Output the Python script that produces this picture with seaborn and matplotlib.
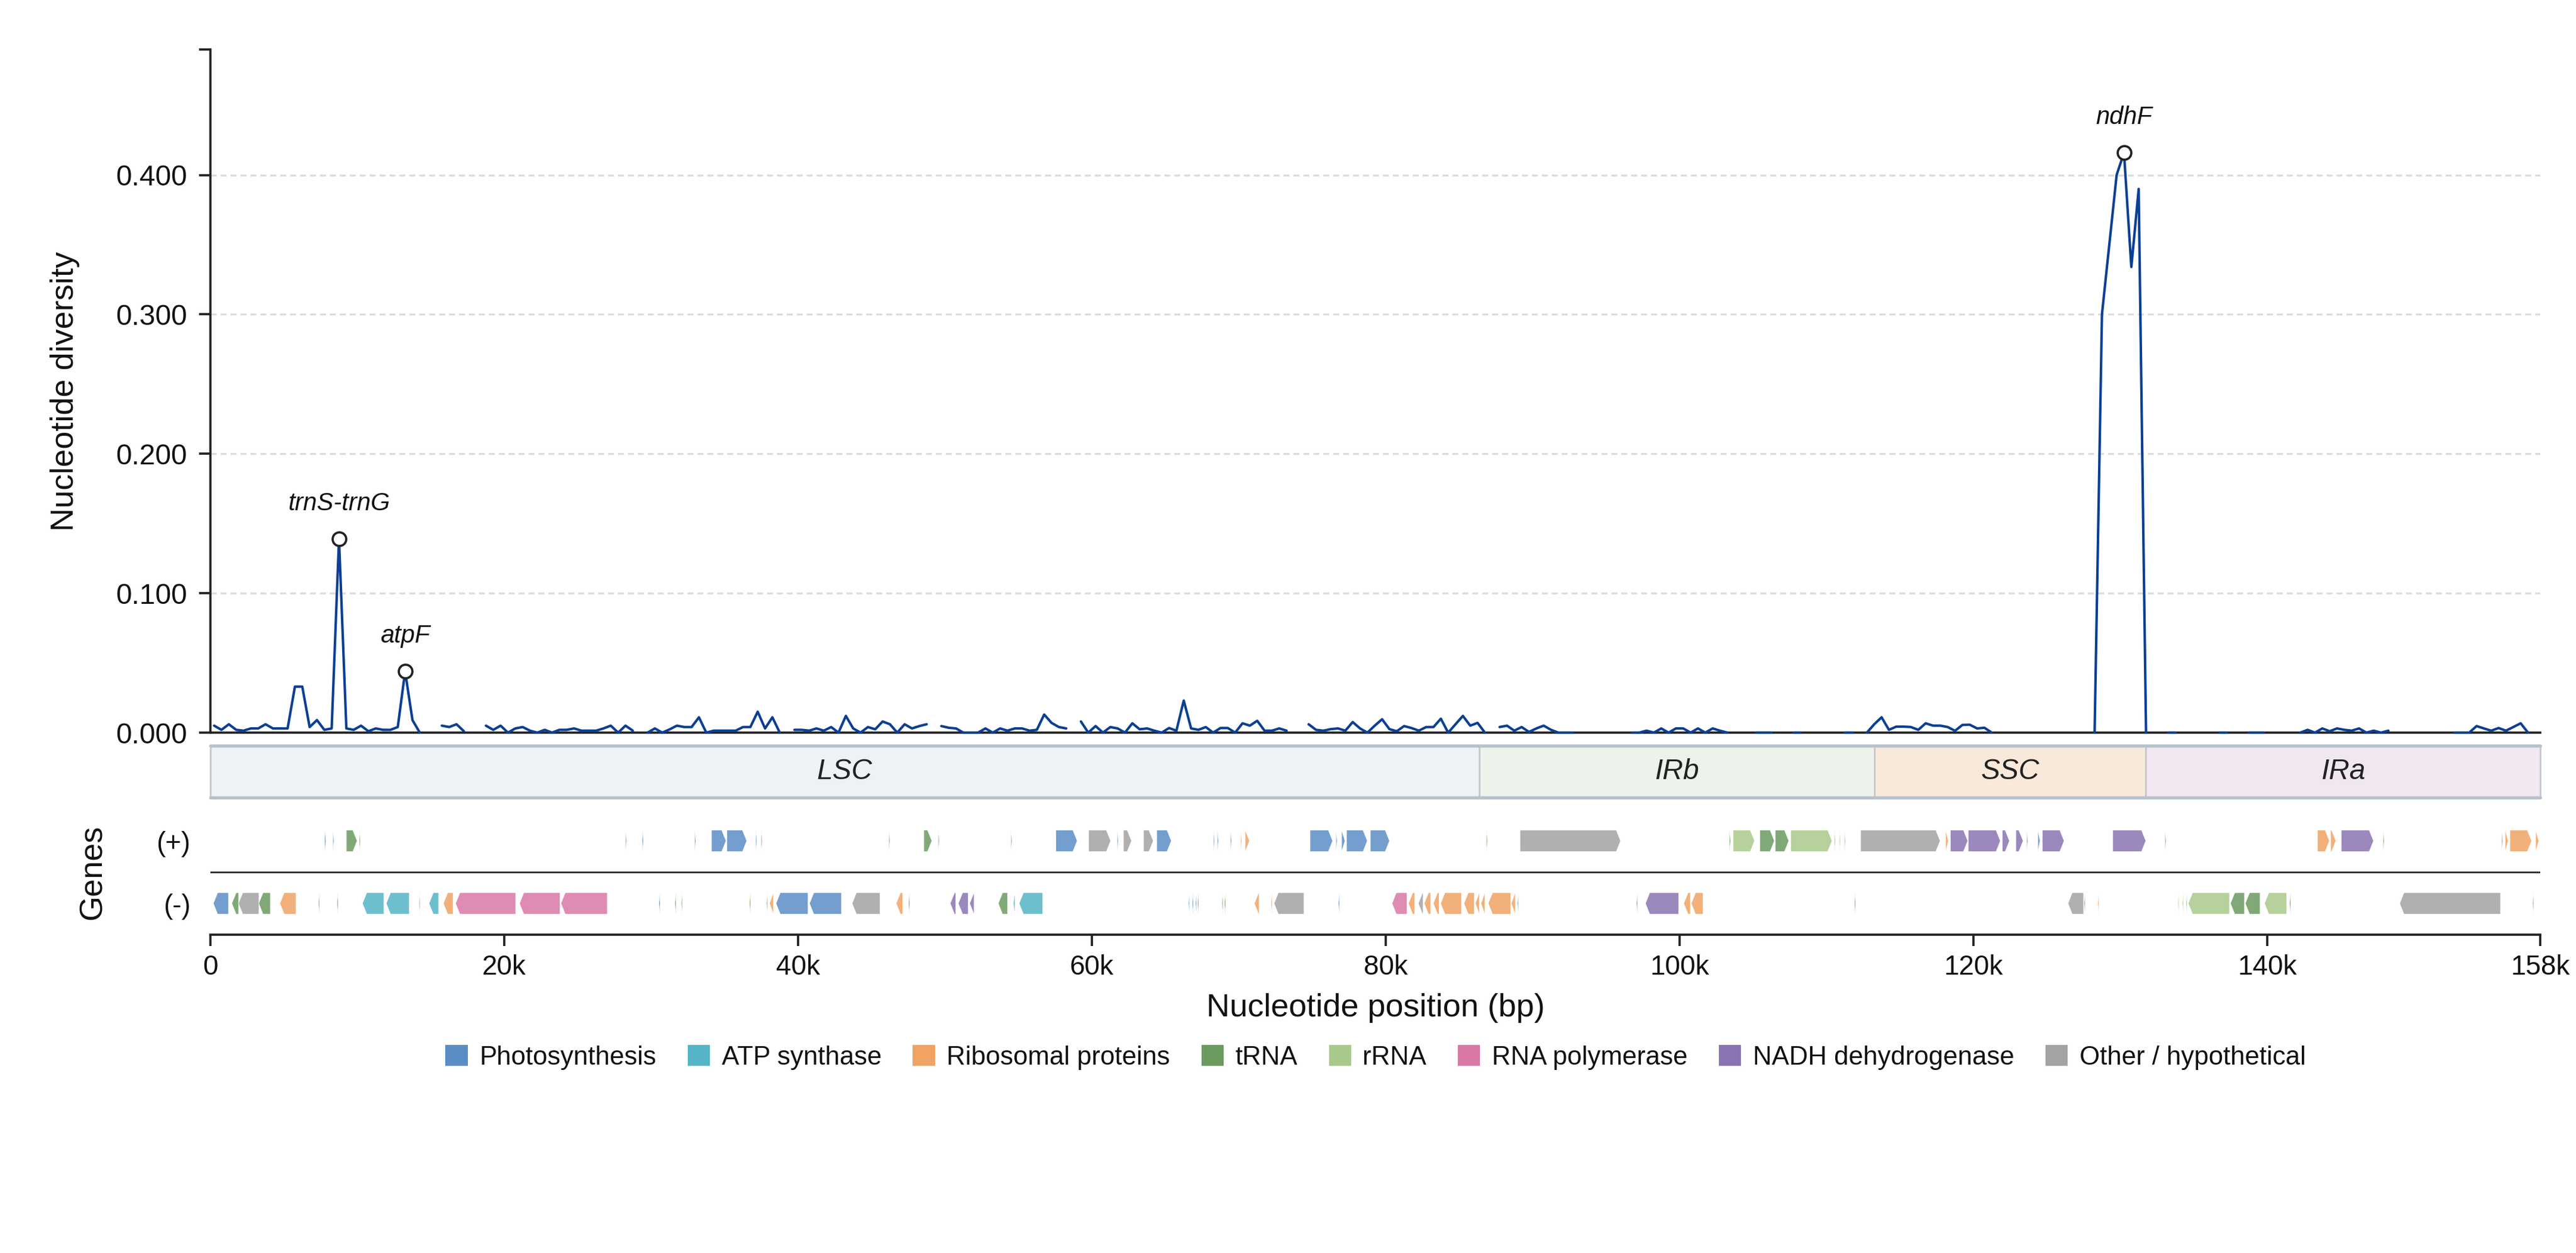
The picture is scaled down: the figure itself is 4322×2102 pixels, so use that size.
import numpy as np
import pandas as pd
import matplotlib
matplotlib.use("Agg")
import matplotlib.pyplot as plt
from matplotlib.patches import Polygon, Rectangle, Patch
import seaborn as sns

nan = np.nan

# ---- data -------------------------------------------------------------
GENOME_LEN = 158580
WIN_STEP = 500  # sliding window step (bp), one value per window

# nucleotide diversity (Pi) per window, 20 windows (10 kb) per row
pi_values = [
    0.005, 0.002, 0.006, 0.002, 0.0014, 0.003, 0.003, 0.006, 0.003, 0.003, 0.003, 0.033, 0.033, 0.004, 0.009, 0.002, 0.003, 0.139, 0.003, 0.002,
    0.005, 0.001, 0.003, 0.002, 0.002, 0.004, 0.044, 0.009, 0.0, nan, nan, 0.005, 0.004, 0.006, 0.001, nan, nan, 0.005, 0.002, 0.005,
    0.0, 0.003, 0.004, 0.0014, 0.0, 0.002, 0.0, 0.002, 0.002, 0.003, 0.0014, 0.0014, 0.0014, 0.003, 0.005, 0.0, 0.005, 0.0014, nan, 0.0,
    0.003, 0.0, 0.0023, 0.005, 0.004, 0.004, 0.011, 0.0, 0.0014, 0.0014, 0.0014, 0.0014, 0.004, 0.004, 0.015, 0.003, 0.011, 0.0, nan, 0.002,
    0.002, 0.0014, 0.003, 0.0014, 0.004, 0.0, 0.012, 0.003, 0.0, 0.004, 0.0024, 0.008, 0.006, 0.0, 0.006, 0.003, 0.0047, 0.006, nan, 0.0047,
    0.0035, 0.003, 0.0, 0.0, 0.0, 0.003, 0.0, 0.003, 0.0014, 0.003, 0.003, 0.0014, 0.002, 0.013, 0.007, 0.004, 0.003, nan, 0.008, 0.0,
    0.0047, 0.0, 0.004, 0.003, 0.0, 0.0067, 0.0024, 0.003, 0.0014, 0.0, 0.0033, 0.0014, 0.023, 0.003, 0.002, 0.004, 0.0, 0.0033, 0.0033, 0.0,
    0.0067, 0.005, 0.0085, 0.0014, 0.0014, 0.003, 0.0014, nan, nan, 0.006, 0.002, 0.0014, 0.0025, 0.003, 0.0014, 0.0076, 0.003, 0.0, 0.005, 0.0096,
    0.0025, 0.001, 0.0047, 0.0033, 0.0014, 0.004, 0.004, 0.010, 0.0, 0.006, 0.012, 0.005, 0.007, 0.0, nan, 0.004, 0.005, 0.0014, 0.004, 0.0005,
    0.003, 0.005, 0.002, 0.0, 0.0, 0.0, nan, nan, nan, nan, nan, nan, nan, 0.0, 0.0, 0.0014, 0.0, 0.003, 0.0, 0.003,
    0.003, 0.0, 0.003, 0.0, 0.003, 0.0014, 0.0, nan, nan, nan, 0.0, 0.0, 0.0, nan, nan, 0.0, 0.0, nan, nan, nan,
    nan, nan, 0.0, 0.0, nan, 0.0, 0.006, 0.011, 0.002, 0.0043, 0.0043, 0.004, 0.002, 0.0067, 0.005, 0.005, 0.004, 0.0013, 0.0055, 0.0057,
    0.003, 0.0035, 0.0, nan, nan, nan, nan, nan, nan, nan, nan, nan, nan, nan, nan, nan, 0.0, 0.30, 0.35, 0.40,
    0.416, 0.334, 0.39, 0.0, nan, nan, 0.0, 0.0, nan, nan, nan, nan, nan, 0.0, 0.0, nan, nan, 0.0, 0.0, 0.0,
    nan, nan, nan, nan, 0.0, 0.002, 0.0, 0.003, 0.001, 0.003, 0.002, 0.0014, 0.003, 0.0, 0.0014, 0.0, 0.0014, nan, nan, nan,
    nan, nan, nan, nan, nan, 0.0, 0.0, 0.0, 0.0047, 0.003, 0.0014, 0.0033, 0.0014, 0.004, 0.0067, 0.0, nan,
]

# labelled hotspots: name and the bp range searched for the peak
peak_names = ["trnS-trnG", "atpF", "ndhF"]
peak_ranges = [(8000, 9500), (12500, 14000), (128000, 132000)]

# quadripartite structure
region_names = ["LSC", "IRb", "SSC", "IRa"]
region_bounds = [0, 86370, 113270, 131720, GENOME_LEN]
region_colors = ["#eef2f5", "#edf2eb", "#f9e9db", "#f1e7f0"]

# functional categories
cat_codes = ["PS", "ATP", "RIB", "TRN", "RRN", "RPO", "NDH", "OTH"]
cat_names = ["Photosynthesis", "ATP synthase", "Ribosomal proteins", "tRNA",
             "rRNA", "RNA polymerase", "NADH dehydrogenase", "Other / hypothetical"]
cat_colors = ["#5b8dc5", "#55b4c6", "#f0a363", "#6b9a5f",
              "#a9c98a", "#d978a6", "#8a73b1", "#a3a3a3"]

# genes on the forward strand (start, end, category)
genes_plus = [
    (7780, 7860, "PS"), (8330, 8400, "PS"), (9250, 9980, "TRN"), (10140, 10210, "TRN"),
    (28250, 28320, "TRN"), (29400, 29470, "PS"), (32960, 33030, "TRN"),
    (34110, 35090, "PS"), (35160, 36500, "PS"), (37120, 37190, "PS"), (37490, 37560, "TRN"),
    (46180, 46250, "TRN"), (48560, 49100, "TRN"), (49540, 49610, "TRN"), (54490, 54560, "TRN"),
    (57550, 58990, "PS"), (59780, 61270, "OTH"), (61720, 61790, "PS"), (62150, 62690, "OTH"),
    (63520, 64170, "OTH"), (64420, 65400, "PS"),
    (68280, 68350, "PS"), (68540, 68610, "PS"), (69430, 69500, "PS"), (70120, 70190, "RIB"),
    (70430, 70720, "RIB"),
    (74850, 76380, "PS"), (76610, 76680, "PS"), (77000, 77220, "PS"), (77330, 78740, "PS"),
    (78950, 80250, "PS"),
    (86860, 86930, "TRN"), (89140, 95980, "OTH"),
    (103400, 103470, "TRN"), (103650, 105100, "RRN"), (105470, 106450, "TRN"), (106520, 107430, "TRN"),
    (107570, 110370, "RRN"), (110540, 110610, "RRN"), (110880, 110950, "RRN"), (111220, 111290, "RRN"),
    (112330, 117730, "OTH"),
    (118110, 118290, "RIB"), (118440, 119610, "NDH"), (119650, 121830, "NDH"), (121970, 122450, "NDH"),
    (122890, 123380, "NDH"), (123630, 123700, "NDH"), (124390, 124530, "PS"), (124700, 126170, "NDH"),
    (129490, 131730, "NDH"), (133040, 133110, "TRN"),
    (143420, 144230, "RIB"), (144320, 144670, "RIB"), (145040, 147230, "NDH"), (147890, 147960, "TRN"),
    (155960, 156030, "TRN"), (156200, 156400, "RIB"), (156520, 157990, "RIB"), (158270, 158480, "RIB"),
]

# genes on the reverse strand (start, end, category)
genes_minus = [
    (200, 1220, "PS"), (1460, 1910, "TRN"), (1910, 3290, "OTH"), (3290, 4080, "TRN"),
    (4730, 5820, "RIB"), (7350, 7420, "TRN"), (8610, 8680, "TRN"),
    (10350, 11800, "ATP"), (11970, 13530, "ATP"), (14200, 14270, "ATP"), (14880, 15530, "ATP"),
    (15860, 16510, "RIB"),
    (16690, 20770, "RPO"), (21040, 23790, "RPO"), (23860, 27010, "RPO"),
    (30530, 30600, "PS"), (31620, 31690, "TRN"), (32050, 32120, "TRN"),
    (36690, 36760, "TRN"), (37850, 37920, "TRN"), (38060, 38320, "RIB"),
    (38500, 40670, "PS"), (40780, 42950, "PS"), (43680, 45570, "OTH"),
    (46680, 47110, "RIB"), (47520, 47590, "TRN"),
    (50360, 50730, "NDH"), (50910, 51570, "NDH"), (51680, 51970, "NDH"),
    (53630, 54250, "TRN"), (54650, 54760, "ATP"), (55050, 56640, "ATP"),
    (66570, 66640, "PS"), (66830, 66900, "PS"), (67050, 67120, "PS"), (67190, 67260, "PS"),
    (68850, 68920, "TRN"), (69020, 69090, "TRN"),
    (71060, 71380, "RIB"), (72190, 72260, "RIB"), (72400, 74430, "OTH"), (76780, 76850, "PS"),
    (80430, 81440, "RPO"), (81550, 81960, "RIB"), (82220, 82540, "OTH"), (82620, 83050, "RIB"),
    (83240, 83630, "RIB"), (83740, 85150, "RIB"), (85330, 86020, "RIB"), (86100, 86370, "RIB"),
    (86490, 86740, "RIB"), (86980, 88510, "RIB"), (88550, 88810, "RIB"), (88960, 89030, "TRN"),
    (97070, 97140, "TRN"), (97680, 99930, "NDH"), (100290, 100730, "RIB"), (100800, 101590, "RIB"),
    (111900, 111970, "TRN"),
    (126440, 127500, "OTH"), (127540, 127610, "TRN"), (128470, 128540, "RIB"),
    (133920, 133990, "RRN"), (134230, 134300, "RRN"), (134470, 134540, "RRN"),
    (134630, 137430, "RRN"), (137500, 138450, "TRN"), (138510, 139510, "TRN"),
    (139820, 141320, "RRN"), (141520, 141590, "TRN"),
    (149020, 155870, "OTH"), (158060, 158130, "TRN"),
]

# ---- style ------------------------------------------------------------
sns.set_theme(style="ticks")
plt.rcParams["font.family"] = ["Liberation Sans", "DejaVu Sans"]
plt.rcParams.update({
    "axes.edgecolor": "#222222",
    "xtick.color": "#222222",
    "ytick.color": "#222222",
    "text.color": "#111111",
    "axes.labelcolor": "#111111",
    "xtick.labelcolor": "#111111",
    "ytick.labelcolor": "#111111",
})

LINE_C = "#0b3f93"
color_of = dict(zip(cat_codes, cat_colors))

fig = plt.figure(figsize=(4322 / 300, 2102 / 300), dpi=300)
L, W = 0.0817, 0.9044
ax = fig.add_axes([L, 0.4153, W, 0.5452])
ax_r = fig.add_axes([L, 0.3635, W, 0.0414])
ax_g = fig.add_axes([L, 0.2540, W, 0.0999])

# ---- diversity line ---------------------------------------------------
win_mid = np.arange(len(pi_values)) * WIN_STEP + WIN_STEP // 2
div = pd.DataFrame({"pos": win_mid, "pi": pi_values})
div["seg"] = div["pi"].isna().cumsum()
div = div.dropna()
sns.lineplot(data=div, x="pos", y="pi", units="seg", estimator=None,
             color=LINE_C, lw=1.0, ax=ax, zorder=3, clip_on=False)

pk_x, pk_y = [], []
for lo, hi in peak_ranges:
    sub = div[(div["pos"] >= lo) & (div["pos"] <= hi)]
    row = sub.loc[sub["pi"].idxmax()]
    pk_x.append(row["pos"])
    pk_y.append(row["pi"])
sns.scatterplot(x=pk_x, y=pk_y, s=30, facecolor="white", edgecolor="#222222",
                linewidth=0.9, zorder=4, ax=ax, clip_on=False)
for name, x, y in zip(peak_names, pk_x, pk_y):
    ax.annotate(name, (x, y), xytext=(0, 11.5), textcoords="offset points",
                ha="center", va="baseline", fontsize=10, style="italic")

ax.set_xlim(0, GENOME_LEN)
ax.set_ylim(0, 0.49)
ax.set_yticks([0, 0.1, 0.2, 0.3, 0.4])
ax.set_yticklabels([f"{v:.3f}" for v in [0, 0.1, 0.2, 0.3, 0.4]])
ax.set_yticks([0.49], minor=True)
ax.tick_params(axis="y", which="both", length=4.5, width=0.9, labelsize=11.5, pad=5)
ax.set_xticks([])
ax.yaxis.grid(True, linestyle=(0, (3, 2)), color="#d8dde2", lw=0.8)
ax.set_axisbelow(True)
ax.set_xlabel("")
ax.set_ylabel("Nucleotide diversity", fontsize=13)
ax.yaxis.set_label_coords(-0.056, 0.5)
sns.despine(ax=ax)
for s in ["left", "bottom"]:
    ax.spines[s].set_linewidth(0.9)

# ---- region bar -------------------------------------------------------
for name, s, e, c in zip(region_names, region_bounds[:-1], region_bounds[1:], region_colors):
    ax_r.add_patch(Rectangle((s, 0), e - s, 1, facecolor=c, edgecolor="#c3c8cd",
                             lw=0.7, clip_on=False))
    ax_r.text((s + e) / 2, 0.5, name, ha="center", va="center",
              fontsize=11.5, style="italic", color="#222222")
ax_r.plot([0, GENOME_LEN], [1, 1], color="#b8c2cc", lw=1.3, clip_on=False)
ax_r.plot([0, GENOME_LEN], [0, 0], color="#b8c2cc", lw=1.3, clip_on=False)
ax_r.set_xlim(0, GENOME_LEN)
ax_r.set_ylim(0, 1)
ax_r.axis("off")

# ---- gene tracks ------------------------------------------------------
def gene_arrow(start, end, strand, yc, h=0.17, head=290):
    hl = min(head, end - start)
    if strand > 0:
        pts = [(start, yc - h), (end - hl, yc - h), (end, yc), (end - hl, yc + h), (start, yc + h)]
    else:
        pts = [(end, yc - h), (start + hl, yc - h), (start, yc), (start + hl, yc + h), (end, yc + h)]
    return pts

for genes, strand, yc in [(genes_plus, 1, 0.5), (genes_minus, -1, -0.5)]:
    for s, e, code in genes:
        ax_g.add_patch(Polygon(gene_arrow(s, e, strand, yc), closed=True,
                               facecolor=color_of[code], edgecolor="white",
                               lw=0.15, alpha=0.85))

ax_g.axhline(0, color="#333333", lw=0.7)
ax_g.set_xlim(0, GENOME_LEN)
ax_g.set_ylim(-1, 1)
ax_g.set_yticks([0.5, -0.5])
ax_g.set_yticklabels(["(+)", "(-)"])
ax_g.tick_params(axis="y", length=0, labelsize=11, pad=8)
xt = list(range(0, 140001, 20000)) + [GENOME_LEN]
ax_g.set_xticks(xt)
ax_g.set_xticklabels(["0"] + [f"{v // 1000}k" for v in xt[1:]])
ax_g.tick_params(axis="x", length=4.5, width=0.9, labelsize=11)
ax_g.set_xlabel("Nucleotide position (bp)", fontsize=13, labelpad=5)
ax_g.set_ylabel("Genes", fontsize=13)
ax_g.yaxis.set_label_coords(-0.044, 0.5)
sns.despine(ax=ax_g, left=True)
ax_g.spines["bottom"].set_linewidth(0.9)

# ---- legend -----------------------------------------------------------
handles = [Patch(facecolor=c, edgecolor="none", label=n) for n, c in zip(cat_names, cat_colors)]
fig.legend(handles=handles, loc="center", bbox_to_anchor=(0.534, 0.156), ncol=8,
           frameon=False, fontsize=10.5, handlelength=0.85, handleheight=0.85,
           handletextpad=0.45, columnspacing=1.2)

fig.savefig("out.png", dpi=300)
